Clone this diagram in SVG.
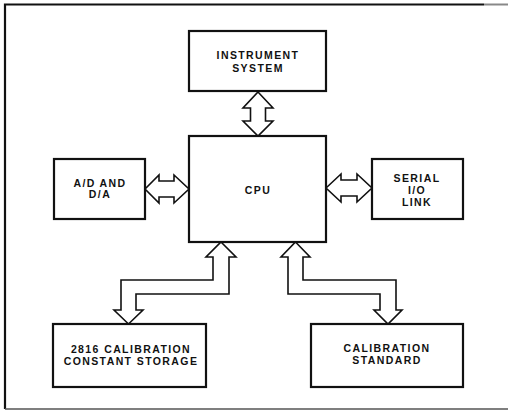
<svg xmlns="http://www.w3.org/2000/svg" width="508" height="411" viewBox="0 0 508 411">
<style>
.box{fill:#fff;stroke:#111;stroke-width:2.2}
.arr{fill:#fff;stroke:#111;stroke-width:1.6;stroke-linejoin:miter}
.t{font-family:"Liberation Sans",Arial,sans-serif;font-weight:bold;font-size:10.5px;letter-spacing:1.4px;fill:#111;text-anchor:middle}
</style>
<rect width="508" height="411" fill="#fff"/>
<g id="frame" fill="none">
<path d="M5,409 V4.5 H484" stroke="#111" stroke-width="2.2"/>
<path d="M484,4.5 H508" stroke="#888" stroke-width="2"/>
<path d="M5,409 H508" stroke="#555" stroke-width="1.4"/>
</g>
<g id="connectors">
<polygon class="arr" points="258,92 273,108 265.5,108 265.5,121 273,121 258,136 243,121 250.5,121 250.5,108 243,108"/>
<polygon class="arr" points="145,189 159,175 159,181 174,181 174,175 189,189 174,203 174,197 159,197 159,203"/>
<polygon class="arr" points="326,188 341,174 341,180 357,180 357,174 372,188 357,202 357,196 341,196 341,202"/>
<polygon class="arr" points="221,242 236,257 229,257 229,294 136,294 136,310 143,310 128.5,324 114,310 121,310 121,280 213,280 213,257 206,257"/>
<polygon class="arr" points="295.5,242 310,257 303,257 303,280 396,280 396,310 402,310 388,324 374,310 380,310 380,294 288,294 288,257 281,257"/>
</g>
<g id="instrument">
<rect class="box" x="189" y="31" width="137" height="60"/>
<text class="t" x="258" y="59">INSTRUMENT</text>
<text class="t" x="258" y="72">SYSTEM</text>
</g>
<g id="cpu">
<rect class="box" x="189" y="136" width="137" height="106"/>
<text class="t" x="258" y="194">CPU</text>
</g>
<g id="adda">
<rect class="box" x="54" y="159" width="91" height="60"/>
<text class="t" x="100" y="187">A/D AND</text>
<text class="t" x="100" y="198">D/A</text>
</g>
<g id="serial">
<rect class="box" x="372" y="159" width="91" height="60"/>
<text class="t" x="417" y="182">SERIAL</text>
<text class="t" x="417" y="194">I/O</text>
<text class="t" x="417" y="206">LINK</text>
</g>
<g id="storage">
<rect class="box" x="53" y="324" width="153" height="63"/>
<text class="t" x="131" y="353">2816 CALIBRATION</text>
<text class="t" x="131" y="365">CONSTANT STORAGE</text>
</g>
<g id="standard">
<rect class="box" x="311" y="324" width="152" height="63"/>
<text class="t" x="387" y="352">CALIBRATION</text>
<text class="t" x="387" y="364">STANDARD</text>
</g>
</svg>
